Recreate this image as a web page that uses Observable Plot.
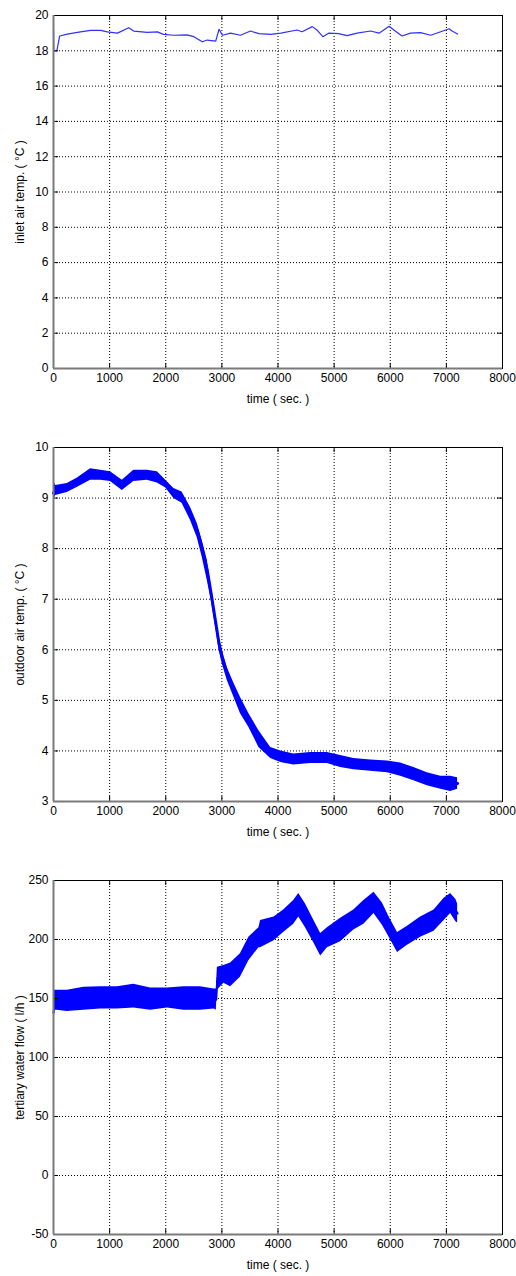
<!DOCTYPE html>
<html>
<head>
<meta charset="utf-8">
<script src="https://cdn.jsdelivr.net/npm/d3@7"></script>
<script src="https://cdn.jsdelivr.net/npm/@observablehq/plot@0.6"></script>
<style>
  html, body { margin: 0; padding: 0; background: white; }
  #chart { width: 516px; }
  #chart svg { display: block; }
</style>
</head>
<body>
<div id="chart"></div>
<script>
// ---- tick labels ----
const xTicks = [0, 1000, 2000, 3000, 4000, 5000, 6000, 7000, 8000];
const inletTicks = [0, 2, 4, 6, 8, 10, 12, 14, 16, 18, 20];
const outdoorTicks = [3, 4, 5, 6, 7, 8, 9, 10];
const flowTicks = [-50, 0, 50, 100, 150, 200, 250];

// ---- inlet air temperature (°C) ----
const inletT = [0, 5, 60, 110, 245, 480, 660, 840, 960, 1140, 1340, 1430, 1670, 1850, 1960, 2140, 2380, 2500, 2650, 2740, 2890, 2950, 3010, 3155, 3330, 3510, 3660, 3870, 4050, 4340, 4430, 4610, 4700, 4800, 4900, 5080, 5230, 5410, 5650, 5800, 5980, 6070, 6210, 6360, 6540, 6720, 6900, 7050, 7100, 7200];
const inletV = [19.2, 18.0, 18.0, 18.84, 18.94, 19.07, 19.16, 19.16, 19.07, 19.0, 19.31, 19.12, 19.04, 19.07, 18.93, 18.88, 18.9, 18.8, 18.51, 18.61, 18.55, 19.22, 18.88, 19.0, 18.88, 19.12, 18.97, 18.93, 19.0, 19.18, 19.08, 19.37, 19.16, 18.8, 19.0, 18.97, 18.86, 19.0, 19.12, 19.0, 19.39, 19.16, 18.84, 19.0, 19.03, 18.88, 19.08, 19.25, 19.12, 18.95];

// ---- outdoor air temperature (°C): noise envelope ----
const outT = [0, 20, 40, 245, 420, 660, 840, 1015, 1225, 1430, 1670, 1850, 2000, 2145, 2290, 2440, 2560, 2650, 2740, 2810, 2890, 2950, 3005, 3095, 3215, 3330, 3480, 3660, 3870, 4050, 4280, 4580, 4880, 5115, 5350, 5650, 5950, 6185, 6420, 6660, 6900, 7075, 7200];
const outLo = [8.85, 9.0, 9.05, 9.11, 9.21, 9.35, 9.35, 9.33, 9.15, 9.33, 9.35, 9.3, 9.2, 8.99, 8.9, 8.56, 8.22, 7.83, 7.37, 6.98, 6.44, 5.99, 5.73, 5.40, 5.06, 4.74, 4.47, 4.07, 3.85, 3.77, 3.72, 3.75, 3.75, 3.67, 3.63, 3.6, 3.57, 3.5, 3.41, 3.31, 3.24, 3.2, 3.24];
const outHi = [9.35, 9.3, 9.25, 9.29, 9.39, 9.58, 9.55, 9.52, 9.35, 9.55, 9.55, 9.52, 9.35, 9.19, 9.12, 8.82, 8.5, 8.16, 7.77, 7.23, 6.64, 6.25, 5.99, 5.65, 5.34, 5.06, 4.74, 4.4, 4.07, 4.0, 3.94, 3.97, 3.97, 3.91, 3.85, 3.82, 3.8, 3.76, 3.67, 3.57, 3.5, 3.5, 3.47];

// ---- tertiary water flow (l/h): noise envelope ----
const flowT = [0, 8, 20, 60, 245, 540, 840, 1140, 1430, 1730, 2030, 2320, 2620, 2860, 2900, 2920, 3035, 3155, 3330, 3480, 3660, 3690, 3930, 4100, 4280, 4370, 4490, 4640, 4760, 4880, 5115, 5350, 5530, 5710, 5860, 5980, 6130, 6300, 6540, 6780, 6960, 7075, 7170, 7200];
const flowLo = [118.6, 125, 140, 140, 139, 140, 141, 141, 142, 140, 142, 140, 140, 141, 140, 157, 163, 160, 168, 182, 193, 193, 199, 206, 213, 219, 210, 197, 186, 193, 198, 208, 213, 222, 212, 202, 189, 195, 202, 207, 216, 222, 215, 214];
const flowHi = [157, 157, 157, 157, 157, 159.6, 160, 160, 162, 159, 159, 160, 160, 158, 158, 176.5, 178, 180, 188, 202, 210, 216, 219, 225, 233, 239, 230, 216, 205, 210, 218, 225, 233, 240, 231, 219, 206, 211, 219, 225, 235, 239, 234, 230];

const W = 516, ML = 53, MR = 14, MT = 15;
const plotW = W - ML - MR;
const font = "'Liberation Sans', Arial, Helvetica, sans-serif";
const fmt = d => String(d);

function panel({height, marginBottom, yDomain, yTicks, label, dataMarks}) {
  const plotH = height - MT - marginBottom;
  const dot = {stroke: "black", strokeOpacity: 1, strokeWidth: 1, strokeDasharray: "1,2"};
  return Plot.plot({
    width: W, height,
    marginTop: MT, marginLeft: ML, marginRight: MR, marginBottom,
    style: {fontFamily: font, fontSize: "12px", background: "white", color: "black", overflow: "visible"},
    x: {domain: [0, 8000]},
    y: {domain: yDomain},
    marks: [
      Plot.gridX(xTicks, dot),
      Plot.gridY(yTicks, dot),
      ...dataMarks,
      Plot.tickX(xTicks, {x: d => d, insetTop: plotH - 5, stroke: "black"}),
      Plot.tickX(xTicks, {x: d => d, insetBottom: plotH - 5, stroke: "black"}),
      Plot.tickY(yTicks, {y: d => d, insetRight: plotW - 5, stroke: "black"}),
      Plot.tickY(yTicks, {y: d => d, insetLeft: plotW - 5, stroke: "black"}),
      Plot.frame({stroke: "black"}),
      Plot.ruleX([0], {stroke: "#7a7a7a", strokeWidth: 2}),
      Plot.ruleY([yDomain[0]], {stroke: "#7a7a7a", strokeWidth: 2}),
      Plot.axisX(xTicks, {tickSize: 0, tickPadding: 5, tickFormat: fmt, label: "time ( sec. )", labelAnchor: "center", labelOffset: 34, labelArrow: "none", fontSize: 12}),
      Plot.axisY(yTicks, {tickSize: 0, tickPadding: 5, tickFormat: fmt, label, labelAnchor: "center", labelOffset: 38, labelArrow: "none", fontSize: 12})
    ]
  });
}

const idx = a => d3.range(a.length);
const blue = "#0000ff";

const p1 = panel({
  height: 432, marginBottom: 64, yDomain: [0, 20], yTicks: inletTicks,
  label: "inlet air temp. ( °C )",
  dataMarks: [
    Plot.line(idx(inletT), {x: i => inletT[i], y: i => inletV[i], stroke: "#3030ff", strokeWidth: 1.2})
  ]
});

const p2 = panel({
  height: 433, marginBottom: 64, yDomain: [3, 10], yTicks: outdoorTicks,
  label: "outdoor air temp. ( °C )",
  dataMarks: [
    Plot.areaY(idx(outT), {x: i => outT[i], y1: i => outLo[i], y2: i => outHi[i], fill: blue, fillOpacity: 1}),
    Plot.line(idx(outT), {x: i => outT[i], y: i => (outLo[i] + outHi[i]) / 2, stroke: blue, strokeWidth: 3})
  ]
});

const p3 = panel({
  height: 411, marginBottom: 42, yDomain: [-50, 250], yTicks: flowTicks,
  label: "tertiary water flow ( l/h )",
  dataMarks: [
    Plot.areaY(idx(flowT), {x: i => flowT[i], y1: i => flowLo[i], y2: i => flowHi[i], fill: blue, fillOpacity: 1}),
    Plot.line(idx(flowT), {x: i => flowT[i], y: i => (flowLo[i] + flowHi[i]) / 2, stroke: blue, strokeWidth: 2})
  ]
});

const root = document.getElementById("chart");
root.append(p1, p2, p3);
</script>
</body>
</html>
